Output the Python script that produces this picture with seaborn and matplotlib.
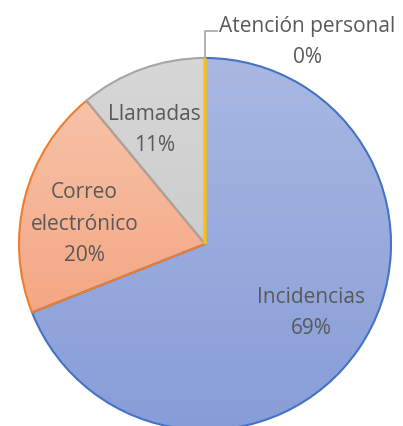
import numpy as np
import matplotlib
matplotlib.use("Agg")
import matplotlib.pyplot as plt
import seaborn as sns
from matplotlib.colors import LinearSegmentedColormap

# Contact channels and their share of requests (%)
categories = ["Incidencias", "Correo\nelectrónico", "Llamadas", "Atención personal"]
shares = [69, 20, 11, 0]

edge_colors = ["#4472C4", "#ED7D31", "#A5A5A5", "#FFC000"]
fill_top = ["#A9B8E2", "#F8C8B0", "#D7D7D7", "#FFD966"]
fill_bottom = ["#889DD8", "#F2976E", "#C3C3C3", "#FFC000"]

sns.set_theme(style="white")
plt.rcParams["font.family"] = ["Open Sans", "DejaVu Sans"]

W, H = 403, 427
fig = plt.figure(figsize=(W / 100, H / 100), dpi=100)
ax = fig.add_axes([0, 0, 1, 1])

cx, cy, r = 205, 182, 186
wedges, _ = ax.pie(
    shares, startangle=90, counterclock=False, center=(cx, cy), radius=r,
    frame=True, wedgeprops=dict(linewidth=1.5),
)

# Vertical gradient fill clipped to each slice
grad = np.linspace(0, 1, 256).reshape(-1, 1)
for i, w in enumerate(wedges):
    w.set_edgecolor(edge_colors[i])
    w.set_facecolor("none")
    if shares[i] == 0:
        w.set_linewidth(2.2)
        w.set_zorder(5)
        continue
    w.set_zorder(3)
    cmap = LinearSegmentedColormap.from_list(f"g{i}", [fill_top[i], fill_bottom[i]])
    im = ax.imshow(grad, cmap=cmap, extent=(cx - r, cx + r, cy - r, cy + r),
                   origin="upper", aspect="auto", zorder=2, interpolation="bilinear")
    im.set_clip_path(w)

text_color = "#595959"
fs, ls = 15, 1.63
# small nudges (in pixels) applied to the in-slice labels
nudges = [(3, 2), (0, -10), (-8, -2)]
for i, w in enumerate(wedges):
    if shares[i] == 0:
        continue
    mid = np.deg2rad((w.theta1 + w.theta2) / 2)
    x = cx + 0.67 * r * np.cos(mid) + nudges[i][0]
    y = cy + 0.67 * r * np.sin(mid) + nudges[i][1]
    ax.text(x, y, f"{categories[i]}\n{shares[i]}%", ha="center", va="center",
            color=text_color, fontsize=fs, linespacing=ls, zorder=6)

# Leader line and label for the zero-share slice
zw = wedges[3]
ang = np.deg2rad(zw.theta1)
ex, ey = cx + r * np.cos(ang), cy + r * np.sin(ang)
ax.plot([ex, ex, ex + 13], [ey, ey + 27, ey + 27], color="#A6A6A6", lw=1.2, zorder=4,
        solid_capstyle="butt")
ax.text(307, 385, f"{categories[3]}\n{shares[3]}%", ha="center", va="center",
        color=text_color, fontsize=fs, linespacing=ls, zorder=6)

ax.set_xlim(0, W)
ax.set_ylim(0, H)
ax.set_aspect("auto")
ax.axis("off")

fig.savefig("out.png", dpi=100)
